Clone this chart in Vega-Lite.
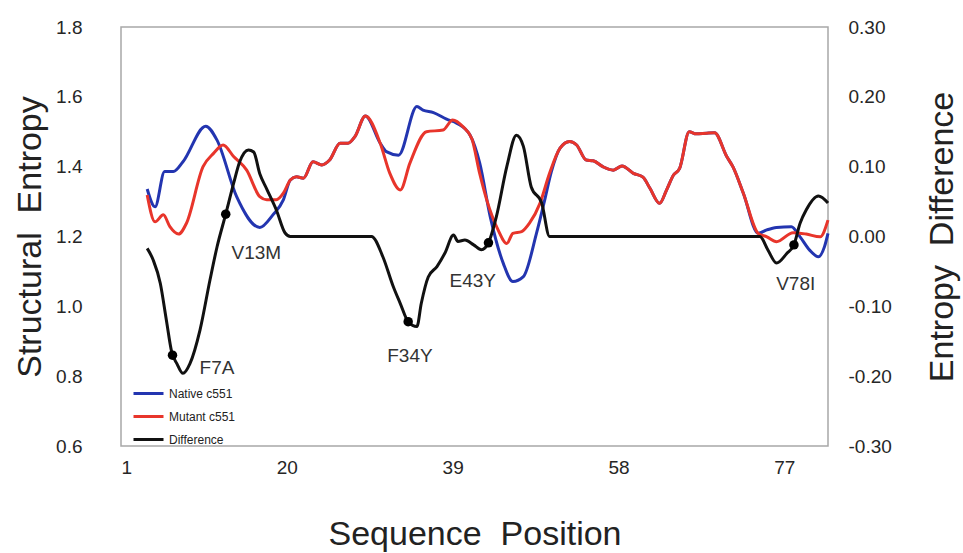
{
  "$schema": "https://vega.github.io/schema/vega-lite/v6.json",
  "width": 707,
  "height": 419,
  "autosize": "none",
  "padding": {"left": 121, "top": 27, "right": 135, "bottom": 107},
  "background": "white",
  "config": {
    "font": "Liberation Sans",
    "view": {"stroke": "#a8a8a8", "strokeWidth": 1.5},
    "axis": {"grid": false, "domain": false, "ticks": false, "labelFont": "Liberation Sans", "titleFont": "Liberation Sans", "labelColor": "#262626", "titleColor": "#222", "labelFontSize": 19, "titleFontSize": 34, "titleFontWeight": "normal"}
  },
  "datasets": {
    "entropy": [
      {"series": "Native c551", "pos": 4, "value": 1.336},
      {"series": "Native c551", "pos": 4.9, "value": 1.285},
      {"series": "Native c551", "pos": 6.0, "value": 1.386},
      {"series": "Native c551", "pos": 7.0, "value": 1.386},
      {"series": "Native c551", "pos": 8.1, "value": 1.414},
      {"series": "Native c551", "pos": 10.7, "value": 1.516},
      {"series": "Native c551", "pos": 12.0, "value": 1.476},
      {"series": "Native c551", "pos": 14.25, "value": 1.314},
      {"series": "Native c551", "pos": 16.9, "value": 1.226},
      {"series": "Native c551", "pos": 18.4, "value": 1.262},
      {"series": "Native c551", "pos": 19.6, "value": 1.305},
      {"series": "Native c551", "pos": 20.4, "value": 1.362},
      {"series": "Native c551", "pos": 21.1, "value": 1.371},
      {"series": "Native c551", "pos": 21.9, "value": 1.367},
      {"series": "Native c551", "pos": 23.0, "value": 1.414},
      {"series": "Native c551", "pos": 24.0, "value": 1.405},
      {"series": "Native c551", "pos": 24.9, "value": 1.419},
      {"series": "Native c551", "pos": 26.1, "value": 1.467},
      {"series": "Native c551", "pos": 27.0, "value": 1.467},
      {"series": "Native c551", "pos": 27.8, "value": 1.486},
      {"series": "Native c551", "pos": 29.0, "value": 1.545},
      {"series": "Native c551", "pos": 30.7, "value": 1.467},
      {"series": "Native c551", "pos": 31.4, "value": 1.443},
      {"series": "Native c551", "pos": 32.8, "value": 1.433},
      {"series": "Native c551", "pos": 34.9, "value": 1.572},
      {"series": "Native c551", "pos": 35.6, "value": 1.562},
      {"series": "Native c551", "pos": 36.8, "value": 1.555},
      {"series": "Native c551", "pos": 38.3, "value": 1.536},
      {"series": "Native c551", "pos": 39.5, "value": 1.524},
      {"series": "Native c551", "pos": 41.0, "value": 1.49},
      {"series": "Native c551", "pos": 42.1, "value": 1.41},
      {"series": "Native c551", "pos": 43.3, "value": 1.257},
      {"series": "Native c551", "pos": 44.8, "value": 1.123},
      {"series": "Native c551", "pos": 45.9, "value": 1.071},
      {"series": "Native c551", "pos": 47.1, "value": 1.085},
      {"series": "Native c551", "pos": 48.6, "value": 1.209},
      {"series": "Native c551", "pos": 49.5, "value": 1.3},
      {"series": "Native c551", "pos": 50.3, "value": 1.385},
      {"series": "Native c551", "pos": 51.3, "value": 1.453},
      {"series": "Native c551", "pos": 52.4, "value": 1.472},
      {"series": "Native c551", "pos": 53.2, "value": 1.462},
      {"series": "Native c551", "pos": 54.3, "value": 1.419},
      {"series": "Native c551", "pos": 55.1, "value": 1.417},
      {"series": "Native c551", "pos": 56.2, "value": 1.4},
      {"series": "Native c551", "pos": 57.4, "value": 1.39},
      {"series": "Native c551", "pos": 58.4, "value": 1.402},
      {"series": "Native c551", "pos": 59.7, "value": 1.381},
      {"series": "Native c551", "pos": 60.8, "value": 1.37},
      {"series": "Native c551", "pos": 61.6, "value": 1.338},
      {"series": "Native c551", "pos": 62.7, "value": 1.295},
      {"series": "Native c551", "pos": 63.5, "value": 1.333},
      {"series": "Native c551", "pos": 64.3, "value": 1.376},
      {"series": "Native c551", "pos": 65.0, "value": 1.395},
      {"series": "Native c551", "pos": 66.1, "value": 1.5},
      {"series": "Native c551", "pos": 66.9, "value": 1.494},
      {"series": "Native c551", "pos": 68.1, "value": 1.496},
      {"series": "Native c551", "pos": 69.0, "value": 1.497},
      {"series": "Native c551", "pos": 70.4, "value": 1.429},
      {"series": "Native c551", "pos": 71.1, "value": 1.4},
      {"series": "Native c551", "pos": 72.3, "value": 1.324},
      {"series": "Native c551", "pos": 74.0, "value": 1.209},
      {"series": "Native c551", "pos": 75.0, "value": 1.219},
      {"series": "Native c551", "pos": 76.1, "value": 1.226},
      {"series": "Native c551", "pos": 77.8, "value": 1.228},
      {"series": "Native c551", "pos": 78.8, "value": 1.199},
      {"series": "Native c551", "pos": 79.9, "value": 1.161},
      {"series": "Native c551", "pos": 80.9, "value": 1.142},
      {"series": "Native c551", "pos": 81.6, "value": 1.171},
      {"series": "Native c551", "pos": 82, "value": 1.209},
      {"series": "Mutant c551", "pos": 4, "value": 1.319},
      {"series": "Mutant c551", "pos": 4.9, "value": 1.242},
      {"series": "Mutant c551", "pos": 5.85, "value": 1.262},
      {"series": "Mutant c551", "pos": 6.6, "value": 1.228},
      {"series": "Mutant c551", "pos": 7.6, "value": 1.207},
      {"series": "Mutant c551", "pos": 8.5, "value": 1.238},
      {"series": "Mutant c551", "pos": 10.4, "value": 1.4},
      {"series": "Mutant c551", "pos": 11.6, "value": 1.438},
      {"series": "Mutant c551", "pos": 12.7, "value": 1.462},
      {"series": "Mutant c551", "pos": 13.9, "value": 1.429},
      {"series": "Mutant c551", "pos": 15.4, "value": 1.39},
      {"series": "Mutant c551", "pos": 16.9, "value": 1.314},
      {"series": "Mutant c551", "pos": 17.7, "value": 1.305},
      {"series": "Mutant c551", "pos": 18.8, "value": 1.305},
      {"series": "Mutant c551", "pos": 19.6, "value": 1.324},
      {"series": "Mutant c551", "pos": 20.4, "value": 1.362},
      {"series": "Mutant c551", "pos": 21.1, "value": 1.371},
      {"series": "Mutant c551", "pos": 21.9, "value": 1.367},
      {"series": "Mutant c551", "pos": 23.0, "value": 1.414},
      {"series": "Mutant c551", "pos": 24.0, "value": 1.405},
      {"series": "Mutant c551", "pos": 24.9, "value": 1.419},
      {"series": "Mutant c551", "pos": 26.1, "value": 1.467},
      {"series": "Mutant c551", "pos": 27.0, "value": 1.467},
      {"series": "Mutant c551", "pos": 27.8, "value": 1.486},
      {"series": "Mutant c551", "pos": 29.0, "value": 1.545},
      {"series": "Mutant c551", "pos": 30.7, "value": 1.467},
      {"series": "Mutant c551", "pos": 31.8, "value": 1.381},
      {"series": "Mutant c551", "pos": 33.0, "value": 1.333},
      {"series": "Mutant c551", "pos": 34.1, "value": 1.41},
      {"series": "Mutant c551", "pos": 36.0, "value": 1.5},
      {"series": "Mutant c551", "pos": 37.9, "value": 1.505},
      {"series": "Mutant c551", "pos": 39.0, "value": 1.534},
      {"series": "Mutant c551", "pos": 40.2, "value": 1.514},
      {"series": "Mutant c551", "pos": 41.2, "value": 1.48},
      {"series": "Mutant c551", "pos": 42.1, "value": 1.38},
      {"series": "Mutant c551", "pos": 42.9, "value": 1.305},
      {"series": "Mutant c551", "pos": 44.2, "value": 1.219},
      {"series": "Mutant c551", "pos": 45.2, "value": 1.18},
      {"series": "Mutant c551", "pos": 45.9, "value": 1.209},
      {"series": "Mutant c551", "pos": 46.9, "value": 1.214},
      {"series": "Mutant c551", "pos": 47.8, "value": 1.238},
      {"series": "Mutant c551", "pos": 49.0, "value": 1.295},
      {"series": "Mutant c551", "pos": 50.1, "value": 1.381},
      {"series": "Mutant c551", "pos": 51.3, "value": 1.453},
      {"series": "Mutant c551", "pos": 52.4, "value": 1.472},
      {"series": "Mutant c551", "pos": 53.2, "value": 1.462},
      {"series": "Mutant c551", "pos": 54.3, "value": 1.419},
      {"series": "Mutant c551", "pos": 55.1, "value": 1.417},
      {"series": "Mutant c551", "pos": 56.2, "value": 1.4},
      {"series": "Mutant c551", "pos": 57.4, "value": 1.39},
      {"series": "Mutant c551", "pos": 58.4, "value": 1.402},
      {"series": "Mutant c551", "pos": 59.7, "value": 1.381},
      {"series": "Mutant c551", "pos": 60.8, "value": 1.37},
      {"series": "Mutant c551", "pos": 61.6, "value": 1.338},
      {"series": "Mutant c551", "pos": 62.7, "value": 1.295},
      {"series": "Mutant c551", "pos": 63.5, "value": 1.333},
      {"series": "Mutant c551", "pos": 64.3, "value": 1.376},
      {"series": "Mutant c551", "pos": 65.0, "value": 1.395},
      {"series": "Mutant c551", "pos": 66.1, "value": 1.5},
      {"series": "Mutant c551", "pos": 66.9, "value": 1.494},
      {"series": "Mutant c551", "pos": 68.1, "value": 1.496},
      {"series": "Mutant c551", "pos": 69.0, "value": 1.497},
      {"series": "Mutant c551", "pos": 70.4, "value": 1.429},
      {"series": "Mutant c551", "pos": 71.1, "value": 1.4},
      {"series": "Mutant c551", "pos": 72.3, "value": 1.324},
      {"series": "Mutant c551", "pos": 74.0, "value": 1.209},
      {"series": "Mutant c551", "pos": 75.0, "value": 1.199},
      {"series": "Mutant c551", "pos": 76.1, "value": 1.185},
      {"series": "Mutant c551", "pos": 78.0, "value": 1.211},
      {"series": "Mutant c551", "pos": 79.5, "value": 1.207},
      {"series": "Mutant c551", "pos": 81.1, "value": 1.199},
      {"series": "Mutant c551", "pos": 82, "value": 1.247}
    ],
    "difference": [
      {"series": "Difference", "pos": 4, "diff": -0.017},
      {"series": "Difference", "pos": 4.7, "diff": -0.034},
      {"series": "Difference", "pos": 5.5, "diff": -0.067},
      {"series": "Difference", "pos": 6.2, "diff": -0.12},
      {"series": "Difference", "pos": 6.8, "diff": -0.165},
      {"series": "Difference", "pos": 7.4, "diff": -0.182},
      {"series": "Difference", "pos": 8.1, "diff": -0.196},
      {"series": "Difference", "pos": 8.9, "diff": -0.182},
      {"series": "Difference", "pos": 10.05, "diff": -0.134},
      {"series": "Difference", "pos": 11.2, "diff": -0.062},
      {"series": "Difference", "pos": 12.0, "diff": -0.015},
      {"series": "Difference", "pos": 13.0, "diff": 0.032},
      {"series": "Difference", "pos": 13.9, "diff": 0.076},
      {"series": "Difference", "pos": 14.6, "diff": 0.107},
      {"series": "Difference", "pos": 15.6, "diff": 0.124},
      {"series": "Difference", "pos": 16.2, "diff": 0.121},
      {"series": "Difference", "pos": 16.9, "diff": 0.09},
      {"series": "Difference", "pos": 17.7, "diff": 0.068},
      {"series": "Difference", "pos": 18.8, "diff": 0.038},
      {"series": "Difference", "pos": 19.8, "diff": 0.005},
      {"series": "Difference", "pos": 20.4, "diff": 0},
      {"series": "Difference", "pos": 29.7, "diff": 0},
      {"series": "Difference", "pos": 31.0, "diff": -0.029},
      {"series": "Difference", "pos": 32.2, "diff": -0.072},
      {"series": "Difference", "pos": 33.0, "diff": -0.096},
      {"series": "Difference", "pos": 33.9, "diff": -0.122},
      {"series": "Difference", "pos": 34.9, "diff": -0.129},
      {"series": "Difference", "pos": 35.4, "diff": -0.096},
      {"series": "Difference", "pos": 36.2, "diff": -0.058},
      {"series": "Difference", "pos": 37.2, "diff": -0.043},
      {"series": "Difference", "pos": 38.1, "diff": -0.024},
      {"series": "Difference", "pos": 39.1, "diff": 0.002},
      {"series": "Difference", "pos": 39.6, "diff": -0.007},
      {"series": "Difference", "pos": 40.4, "diff": -0.005},
      {"series": "Difference", "pos": 41.4, "diff": -0.012},
      {"series": "Difference", "pos": 42.3, "diff": -0.019},
      {"series": "Difference", "pos": 43.1, "diff": -0.009},
      {"series": "Difference", "pos": 44.0, "diff": 0.028},
      {"series": "Difference", "pos": 45.2, "diff": 0.1},
      {"series": "Difference", "pos": 46.3, "diff": 0.145},
      {"series": "Difference", "pos": 47.1, "diff": 0.129},
      {"series": "Difference", "pos": 48.0, "diff": 0.071},
      {"series": "Difference", "pos": 49.2, "diff": 0.048},
      {"series": "Difference", "pos": 50.1, "diff": 0},
      {"series": "Difference", "pos": 74.2, "diff": 0},
      {"series": "Difference", "pos": 75.1, "diff": -0.019},
      {"series": "Difference", "pos": 76.1, "diff": -0.038},
      {"series": "Difference", "pos": 77.3, "diff": -0.024},
      {"series": "Difference", "pos": 78.1, "diff": -0.012},
      {"series": "Difference", "pos": 78.8, "diff": 0.019},
      {"series": "Difference", "pos": 79.5, "diff": 0.038},
      {"series": "Difference", "pos": 80.9, "diff": 0.058},
      {"series": "Difference", "pos": 82, "diff": 0.048}
    ],
    "mutations": [
      {"label": "F7A", "pos": 6.9, "diff": -0.17, "labelPos": 12.0, "labelDiff": -0.188},
      {"label": "V13M", "pos": 13.0, "diff": 0.032, "labelPos": 16.5, "labelDiff": -0.024},
      {"label": "F34Y", "pos": 33.9, "diff": -0.122, "labelPos": 34.1, "labelDiff": -0.171},
      {"label": "E43Y", "pos": 43.1, "diff": -0.009, "labelPos": 41.3, "labelDiff": -0.064},
      {"label": "V78I", "pos": 78.1, "diff": -0.012, "labelPos": 78.3, "labelDiff": -0.068}
    ]
  },
  "layer": [
    {
      "data": {"name": "entropy"},
      "mark": {"type": "line", "strokeWidth": 3, "interpolate": "monotone"},
      "encoding": {
        "x": {"field": "pos", "type": "quantitative", "scale": {"domain": [1, 82], "nice": false, "zero": false},
          "axis": {"values": [1, 20, 39, 58, 77], "title": "Sequence\u00a0\u00a0Position", "labelPadding": 12, "titlePadding": 40}},
        "y": {"field": "value", "type": "quantitative", "scale": {"domain": [0.6, 1.8], "nice": false, "zero": false},
          "axis": {"values": [0.6, 0.8, 1.0, 1.2, 1.4, 1.6, 1.8], "format": ".1f", "title": "Structural\u00a0\u00a0Entropy", "labelPadding": 39, "titlePadding": 8}},
        "color": {"field": "series", "type": "nominal",
          "scale": {"domain": ["Native c551", "Mutant c551", "Difference"], "range": ["#2335b0", "#e8352b", "#111111"]},
          "legend": {"title": null, "orient": "none", "legendX": 11, "legendY": 350, "symbolType": "stroke", "symbolSize": 900, "symbolStrokeWidth": 3, "labelFontSize": 12, "labelFont": "Liberation Sans", "labelColor": "#222", "rowPadding": -13, "labelOffset": 4}},
        "order": {"field": "pos", "type": "quantitative"}
      }
    },
    {
      "layer": [
        {
          "data": {"name": "difference"},
          "mark": {"type": "line", "strokeWidth": 3, "interpolate": "monotone"},
          "encoding": {
            "x": {"field": "pos", "type": "quantitative"},
            "y": {"field": "diff", "type": "quantitative", "scale": {"domain": [-0.3, 0.3], "nice": false, "zero": false},
              "axis": {"orient": "right", "values": [-0.3, -0.2, -0.1, 0, 0.1, 0.2, 0.3], "labelExpr": "(datum.value < -0.0001 ? '-' : '') + format(abs(datum.value), '.2f')", "title": "Entropy\u00a0\u00a0Difference", "titleAngle": 270, "titleBaseline": "top", "labelPadding": 20, "titlePadding": 34}},
            "color": {"field": "series", "type": "nominal"}
          }
        },
        {
          "data": {"name": "mutations"},
          "mark": {"type": "point", "filled": true, "size": 90, "opacity": 1, "color": "#000"},
          "encoding": {
            "x": {"field": "pos", "type": "quantitative"},
            "y": {"field": "diff", "type": "quantitative"}
          }
        },
        {
          "data": {"name": "mutations"},
          "mark": {"type": "text", "fontSize": 19, "font": "Liberation Sans", "color": "#333", "align": "center", "baseline": "middle"},
          "encoding": {
            "x": {"field": "labelPos", "type": "quantitative"},
            "y": {"field": "labelDiff", "type": "quantitative"},
            "text": {"field": "label"}
          }
        }
      ]
    }
  ],
  "resolve": {"scale": {"y": "independent"}}
}
